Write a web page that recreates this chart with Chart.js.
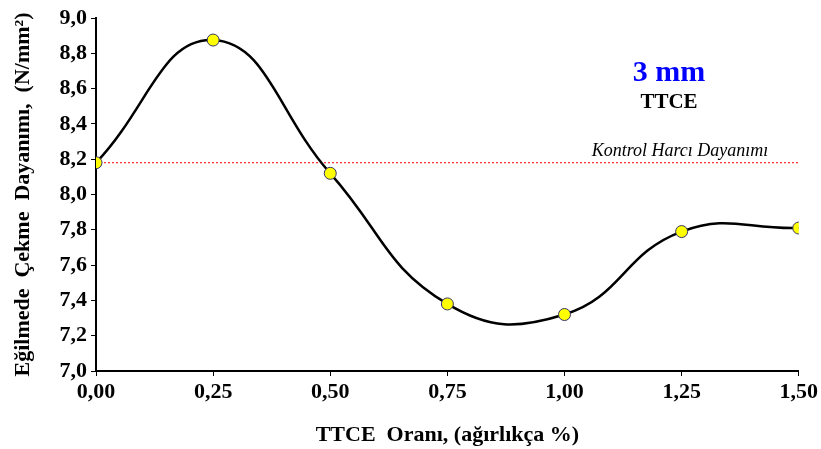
<!DOCTYPE html>
<html>
<head>
<meta charset="utf-8">
<script src="https://cdn.jsdelivr.net/npm/chart.js@4.4.1/dist/chart.umd.min.js"></script>
<style>
  html, body { margin: 0; padding: 0; background: #fff; }
  #wrap { width: 821px; height: 449px; }
</style>
</head>
<body>
<div id="wrap"><canvas id="chart"></canvas></div>
<script>
// TTCE orani (agirlikca %) ve egilmede cekme dayanimi
var oranlar = [0, 0.25, 0.5, 0.75, 1.0, 1.25, 1.5];
var dayanim = [8.18, 8.875, 8.12, 7.38, 7.32, 7.79, 7.81];
var kontrolDayanim = 8.18;
var kontrolAraligi = [0, 1.5];

var fontAile = "'Liberation Serif', 'Times New Roman', serif";

// Baslik ve kontrol etiketi
var yaziEklentisi = {
    id: "yazilar",
    afterDatasetsDraw: function(chart) {
        var c = chart.ctx;
        var ys = chart.scales.y;
        c.save();
        c.textAlign = "center";
        c.textBaseline = "middle";
        c.fillStyle = "#0000ff";
        c.font = "bold 30px " + fontAile;
        c.fillText("3 mm", 669, 73);
        c.fillStyle = "#000";
        c.font = "bold 21px " + fontAile;
        c.fillText("TTCE", 669, 103);
        c.font = "italic 18px " + fontAile;
        c.fillText("Kontrol Harcı Dayanımı", 680, ys.getPixelForValue(kontrolDayanim) - 11);
        c.restore();
    }
};

var ctx = document.getElementById("chart");

new Chart(ctx, {
    type: "scatter",
    data: {
        datasets: [{
            data: oranlar.map(function(x, i) { return { x: x, y: dayanim[i] }; }),
            showLine: true,
            borderColor: "#000",
            borderWidth: 2.5,
            tension: 0.45,
            pointRadius: 6,
            pointBackgroundColor: "#ffff00",
            pointBorderColor: "#333366",
            pointBorderWidth: 1
        }, {
            data: kontrolAraligi.map(function(x) { return { x: x, y: kontrolDayanim }; }),
            showLine: true,
            borderColor: "#ff0000",
            borderWidth: 1,
            borderDash: [2, 2],
            pointRadius: 0
        }]
    },
    options: {
        responsive: true,
        maintainAspectRatio: false,
        animation: false,
        layout: { padding: { top: 18, right: 22, left: 0, bottom: 0 } },
        plugins: {
            legend: { display: false },
            tooltip: { enabled: false }
        },
        scales: {
            x: {
                type: "linear",
                min: 0,
                max: 1.5,
                afterBuildTicks: function(s) {
                    s.ticks = oranlar.map(function(v) { return { value: v }; });
                },
                ticks: {
                    color: "#000",
                    font: { family: fontAile, size: 22, weight: "bold" },
                    padding: 3,
                    callback: function(v) { return v.toFixed(2).replace(".", ","); }
                },
                grid: { display: true, drawOnChartArea: false, drawTicks: true, tickLength: 5, color: "#000" },
                border: { display: true, color: "#000", width: 2 },
                title: {
                    display: true,
                    text: "TTCE  Oranı, (ağırlıkça %)",
                    color: "#000",
                    font: { family: fontAile, size: 22, weight: "bold" },
                    padding: { top: 10, bottom: 0 }
                },
                afterFit: function(s) { s.height = 78; }
            },
            y: {
                min: 7.0,
                max: 9.0,
                ticks: {
                    stepSize: 0.2,
                    color: "#000",
                    font: { family: fontAile, size: 22, weight: "bold" },
                    padding: 4,
                    callback: function(v) { return v.toFixed(1).replace(".", ","); }
                },
                grid: { display: true, drawOnChartArea: false, drawTicks: true, tickLength: 5, color: "#000" },
                border: { display: true, color: "#000", width: 2 },
                title: {
                    display: true,
                    text: "Eğilmede  Çekme  Dayanımı,  (N/mm²)",
                    color: "#000",
                    font: { family: fontAile, size: 22, weight: "bold" },
                    padding: { top: 10, bottom: 0 }
                },
                afterFit: function(s) { s.width = 96; }
            }
        }
    },
    plugins: [yaziEklentisi]
});
</script>
</body>
</html>
